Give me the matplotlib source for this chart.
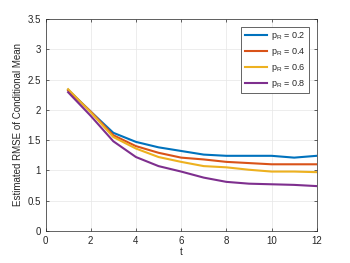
import numpy as np
import matplotlib as mpl
mpl.use("Agg")
import matplotlib.pyplot as plt

t = [1, 2, 3, 4, 5, 6, 7, 8, 9, 10, 11, 12]
rmse_02 = [2.33, 1.97, 1.62, 1.47, 1.38, 1.32, 1.26, 1.24, 1.24, 1.24, 1.21, 1.24]
rmse_04 = [2.32, 1.97, 1.58, 1.40, 1.29, 1.21, 1.18, 1.14, 1.12, 1.10, 1.10, 1.10]
rmse_06 = [2.34, 1.96, 1.55, 1.36, 1.22, 1.14, 1.07, 1.05, 1.01, 0.98, 0.98, 0.97]
rmse_08 = [2.29, 1.90, 1.48, 1.22, 1.07, 0.98, 0.88, 0.81, 0.78, 0.77, 0.76, 0.74]
labels = [r"$\mathrm{p_R}$ = 0.2", r"$\mathrm{p_R}$ = 0.4",
          r"$\mathrm{p_R}$ = 0.6", r"$\mathrm{p_R}$ = 0.8"]

COLORS = ["#0072BD", "#D95319", "#EDB120", "#7E2F8E"]

mpl.rcParams.update({
    "font.family": "Liberation Sans",
    "font.size": 7,
    "mathtext.fontset": "custom",
    "mathtext.rm": "Liberation Sans",
    "axes.linewidth": 0.5,
    "xtick.labelsize": 7,
    "ytick.labelsize": 7,
    "text.color": "#262626",
    "axes.labelcolor": "#262626",
})

fig = plt.figure(figsize=(3.5, 2.63), dpi=100)
ax = fig.add_axes([0.13, 0.122, 0.775, 0.806])

for series, lab, c in zip([rmse_02, rmse_04, rmse_06, rmse_08], labels, COLORS):
    ax.plot(t, series, color=c, linewidth=1.5, label=lab)

ax.set_xlim(0, 12)
ax.set_ylim(0, 3.5)
ax.set_xticks(np.arange(0, 13, 2))
ax.set_yticks(np.arange(0, 3.51, 0.5))
ax.set_yticklabels(["0", "0.5", "1", "1.5", "2", "2.5", "3", "3.5"])
ax.grid(True, color="#e6e6e6", linewidth=0.5)
ax.set_axisbelow(True)
for s in ax.spines.values():
    s.set_color("#262626")
ax.tick_params(direction="in", length=2.5, width=0.5, colors="#262626",
               top=True, right=True)
ax.tick_params(which="both", labeltop=False, labelright=False)
ax.set_xlabel("t", labelpad=1)
ax.set_ylabel("Estimated RMSE of Conditional Mean", labelpad=3)

leg = ax.legend(loc="upper right", bbox_to_anchor=(0.97, 0.963), fontsize=6.5,
                handlelength=2.5, fancybox=False, framealpha=1, borderpad=0.4,
                labelspacing=0.42, handletextpad=0.35, borderaxespad=0)
leg.get_frame().set_edgecolor("#262626")
leg.get_frame().set_linewidth(0.5)

fig.savefig("out.png", dpi=100)
